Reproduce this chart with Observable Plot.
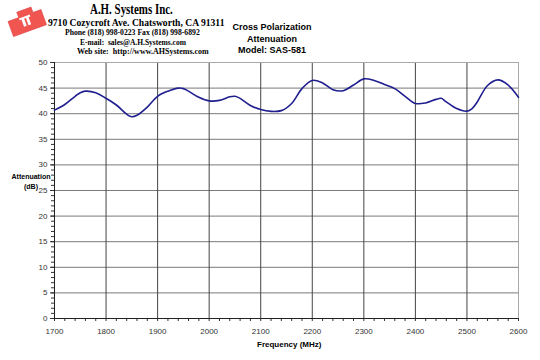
<!DOCTYPE html>
<html><head><meta charset="utf-8">
<script src="https://cdn.jsdelivr.net/npm/d3@7"></script>
<script src="https://cdn.jsdelivr.net/npm/@observablehq/plot@0.6"></script>
<style>
body{margin:0;background:#fff;}
#wrap{position:relative;width:540px;height:360px;overflow:hidden;font-family:"Liberation Sans",Arial,sans-serif;}
#head{position:relative;height:57px;}
.s{position:absolute;font-family:"Liberation Serif","Times New Roman",serif;font-weight:bold;white-space:nowrap;color:#000;transform-origin:0 0;}
.t{position:absolute;font-family:"Liberation Sans",Arial,sans-serif;font-weight:bold;white-space:nowrap;font-size:9px;color:#000;text-align:center;width:120px;left:212px;}
.yl{position:absolute;font-family:"Liberation Sans",Arial,sans-serif;font-weight:bold;font-size:7px;color:#000;text-align:center;line-height:10px;}
.xl{position:absolute;font-family:"Liberation Sans",Arial,sans-serif;font-weight:bold;font-size:8px;color:#000;}
</style></head>
<body>
<div id="wrap">
<div id="head">
<svg style="position:absolute;left:5px;top:3px" width="42" height="36" viewBox="0 0 44 38">
 <g transform="rotate(-20 22 19)">
  <path d="M4 13 L16 13 L16 7 L32 7 L32 13 L41 13 L41 30 L4 30 Z" fill="#f05550" stroke="#e04045" stroke-width="0.6"/>
  <rect x="18" y="15" width="3" height="9" fill="#fff"/>
  <rect x="23" y="15" width="3" height="9" fill="#fff"/>
  <rect x="16" y="14" width="12" height="2" fill="#fff"/>
 </g>
</svg>
<div class="s" style="left:90px;top:2px;font-size:14px;transform:scaleX(0.78);">A.H. Systems Inc.</div>
<div class="s" style="left:48px;top:17px;font-size:10px;transform:scaleX(0.96);">9710 Cozycroft Ave. Chatsworth, CA 91311</div>
<div class="s" style="left:65px;top:28px;font-size:7.7px;">Phone (818) 998-0223 Fax (818) 998-6892</div>
<div class="s" style="left:80px;top:38px;font-size:7.5px;">E-mail:&nbsp; sales@A.H.Systems.com</div>
<div class="s" style="left:77px;top:47px;font-size:8px;">Web site:&nbsp; http://www.AHSystems.com</div>
<div class="t" style="top:22px;">Cross Polarization</div>
<div class="t" style="top:34px;">Attenuation</div>
<div class="t" style="top:45px;">Model: SAS-581</div>
</div>
<div id="chart"></div>
<div class="yl" style="left:9px;top:172px;width:44px;">Attenuation<br>(dB)</div>
<div class="xl" style="left:257px;top:340px;">Frequency (MHz)</div>
</div>
<script>
const freq = [1700,1720,1740,1750,1760,1780,1800,1820,1840,1850,1860,1880,1900,1920,1940,1950,1960,1980,2000,2020,2040,2050,2060,2080,2100,2120,2140,2160,2180,2200,2220,2240,2260,2280,2300,2320,2340,2360,2380,2400,2420,2440,2450,2460,2480,2500,2510,2520,2540,2560,2580,2600];
const atten = [40.7,41.8,43.4,44.1,44.4,44.1,43.0,41.7,39.9,39.4,39.7,41.3,43.4,44.4,45.0,44.9,44.4,43.2,42.5,42.6,43.3,43.4,43.0,41.6,40.8,40.45,40.6,42.0,44.9,46.5,46.0,44.7,44.5,45.6,46.8,46.5,45.7,44.9,43.4,42.0,42.1,42.8,43.0,42.3,41.0,40.5,41.0,42.3,45.5,46.6,45.6,43.2];
const xTicks = d3.range(1700,2700,100);
const xMinor = d3.range(1700,2620,20);
const yTicks = d3.range(0,55,5);
const yMinor = d3.range(0,51,1);
const data = freq.map((f,i)=>({f, a: atten[i]}));

const chart = Plot.plot({
  width: 540, height: 303,
  marginLeft: 54, marginRight: 22, marginTop: 5, marginBottom: 42,
  style: {fontFamily: '"Liberation Sans", Arial, sans-serif', fontSize: "8px", color: "#333"},
  x: {domain: [1700,2600]},
  y: {domain: [0,50]},
  marks: [
    Plot.gridY(yTicks.filter(d=>d>0&&d<50), {stroke:"#7a7a7a", strokeOpacity:1}),
    Plot.gridX(xTicks.filter(d=>d>1700&&d<2600), {stroke:"#444", strokeOpacity:1}),
    Plot.frame({stroke:"#a8a8a8"}),
    Plot.axisY(yMinor, {tickSize:3, tickFormat: ()=>"", label:null}),
    Plot.axisY(yTicks, {tickSize:4, tickPadding:3, label:null}),
    Plot.axisX(xMinor, {tickSize:3, tickFormat: ()=>"", label:null}),
    Plot.axisX(xTicks, {tickSize:0, tickPadding:10, tickFormat: d3.format("d"), label:null}),
    Plot.ruleX([1700], {stroke:"#222"}),
    Plot.ruleY([0], {stroke:"#222"}),
    Plot.line(data, {x:"f", y:"a", stroke:"#1f1f8f", strokeWidth:1.6, curve:"catmull-rom"})
  ]
});
document.getElementById("chart").appendChild(chart);
</script>
</body></html>
